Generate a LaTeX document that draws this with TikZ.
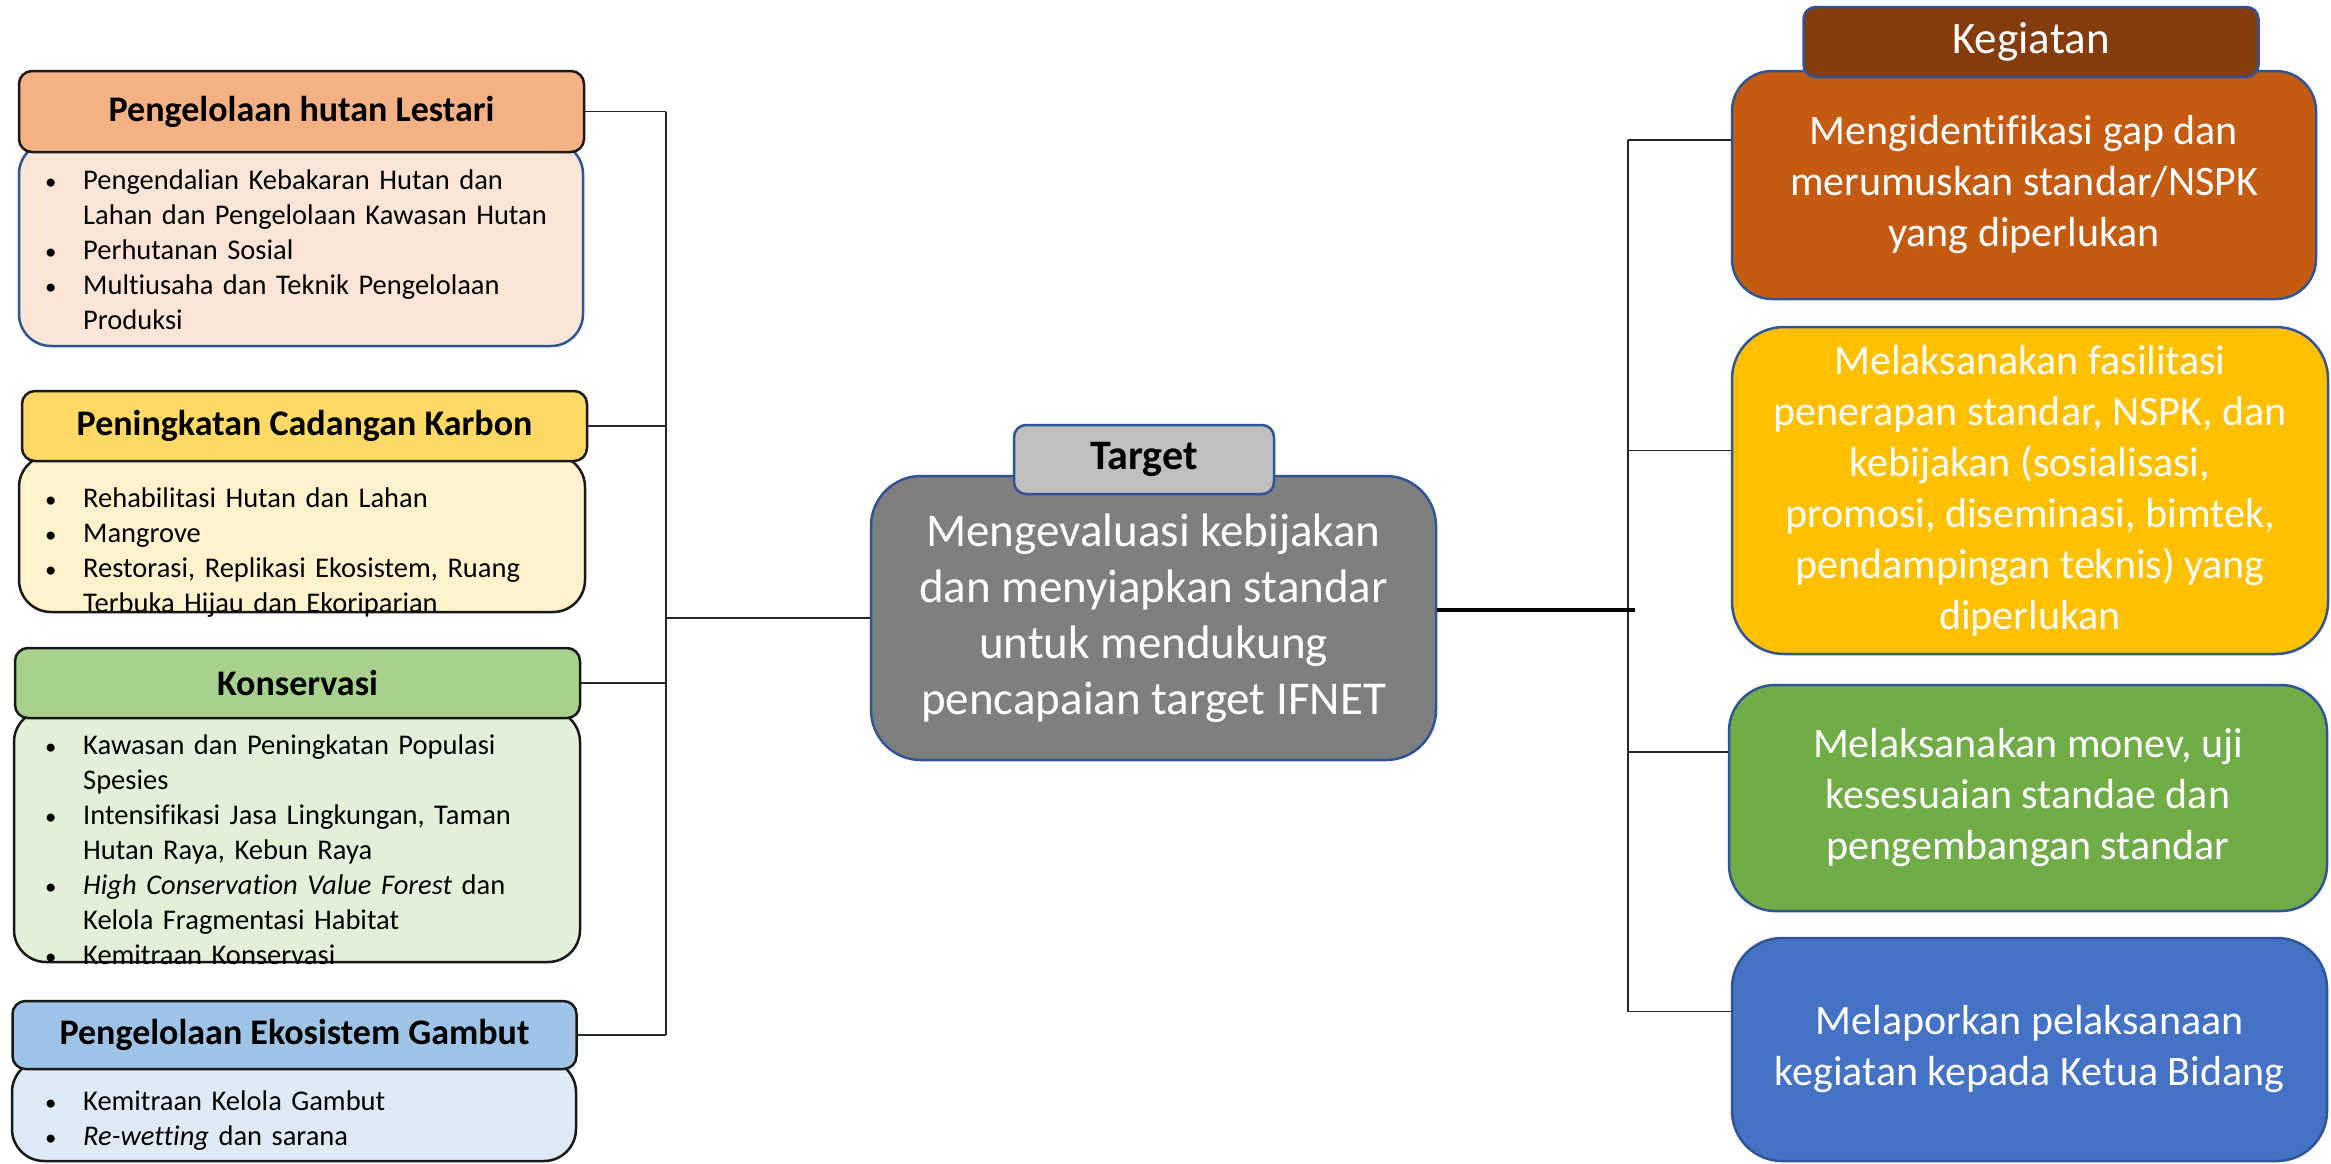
\documentclass[tikz,border=0pt]{standalone}
\usepackage{fontspec}
\setmainfont[Ligatures=NoCommon]{Carlito}
\definecolor{hdrA}{HTML}{F4B183}\definecolor{bodA}{HTML}{FBE5D6}
\definecolor{hdrB}{HTML}{FFD966}\definecolor{bodB}{HTML}{FFF2CC}
\definecolor{hdrC}{HTML}{A9D18E}\definecolor{bodC}{HTML}{E2F0D9}
\definecolor{hdrD}{HTML}{9DC3E6}\definecolor{bodD}{HTML}{DEEBF7}
\definecolor{tlab}{HTML}{BFBFBF}\definecolor{tbox}{HTML}{7F7F7F}
\definecolor{klab}{HTML}{843C0C}
\definecolor{kA}{HTML}{C55A11}\definecolor{kB}{HTML}{FFC000}
\definecolor{kC}{HTML}{70AD47}\definecolor{kD}{HTML}{4472C4}
\definecolor{bordblue}{HTML}{2F5597}
\newcommand{\bitem}[1]{\par\hangindent=38pt\hangafter=1\noindent\makebox[38pt][l]{\strut\scalebox{0.8}{\textbullet}}#1\par}
\begin{document}
\begin{tikzpicture}[x=1pt,y=-1pt,
  hdr/.style={draw=black!90, line width=2.5pt, rounded corners=13pt, inner sep=0pt,
    font=\fontsize{36}{43}\selectfont\bfseries},
  bodybox/.style={draw=black!90, line width=2.5pt, rounded corners=32pt, inner sep=0pt},
  bodytext/.style={anchor=north west, inner sep=0pt, text width=540pt, align=left,
    font=\fontsize{28.5}{35}\selectfont},
  kbox/.style={draw=bordblue, line width=2.5pt, rounded corners=48pt, inner sep=0pt,
    text=white, align=center, font=\fontsize{42}{51}\selectfont},
  lab/.style={draw=bordblue, line width=2.5pt, rounded corners=12pt, inner sep=0pt},
  conn/.style={draw=black!85, line width=1.6pt},
  thickconn/.style={draw=black, line width=3.5pt}
]
\useasboundingbox (0,0) rectangle (2331,1163);
\parskip=0pt
% ---------- left column ----------
\node[bodybox, draw=bordblue, fill=bodA, minimum width=564pt, minimum height=204pt] (bA) at (301,244) {};
\node[bodytext] (tA) at (45,154.5) {%
\bitem{Pengendalian Kebakaran Hutan dan\newline Lahan dan Pengelolaan Kawasan Hutan}%
\bitem{Perhutanan Sosial}%
\bitem{Multiusaha dan Teknik Pengelolaan\newline Produksi}};
\node[hdr, fill=hdrA, minimum width=565pt, minimum height=81pt] (hA) at (301.5,111.5) {Pengelolaan hutan Lestari};

\node[bodybox, fill=bodB, minimum width=566pt, minimum height=157pt] (bB) at (302,533.5) {};
\node[bodytext] (tB) at (45,472.5) {%
\bitem{Rehabilitasi Hutan dan Lahan}%
\bitem{Mangrove}%
\bitem{Restorasi, Replikasi Ekosistem, Ruang\newline Terbuka Hijau dan Ekoriparian}};
\node[hdr, fill=hdrB, minimum width=565pt, minimum height=70pt] (hB) at (304.5,426) {Peningkatan Cadangan Karbon};

\node[bodybox, fill=bodC, minimum width=566pt, minimum height=252pt] (bC) at (297,836) {};
\node[bodytext] (tC) at (45,719.5) {%
\bitem{Kawasan dan Peningkatan Populasi\newline Spesies}%
\bitem{Intensifikasi Jasa Lingkungan, Taman\newline Hutan Raya, Kebun Raya}%
\bitem{\textit{High Conservation Value Forest} dan\newline Kelola Fragmentasi Habitat}%
\bitem{Kemitraan Konservasi}};
\node[hdr, fill=hdrC, minimum width=565pt, minimum height=70pt] (hC) at (297.5,683) {Konservasi};

\node[bodybox, fill=bodD, minimum width=564pt, minimum height=101pt] (bD) at (294,1110.5) {};
\node[bodytext] (tD) at (45,1075.5) {%
\bitem{Kemitraan Kelola Gambut}%
\bitem{\textit{Re-wetting} dan sarana}};
\node[hdr, fill=hdrD, minimum width=564pt, minimum height=68pt] (hD) at (294.5,1035) {Pengelolaan Ekosistem Gambut};

% ---------- centre ----------
\node[kbox, fill=tbox, rounded corners=50pt, minimum width=565pt, minimum height=284pt,
  font=\fontsize{47}{56}\selectfont] (tg) at (1153.5,618)
  {Mengevaluasi kebijakan\\dan menyiapkan standar\\untuk mendukung\\pencapaian target IFNET};
\node[lab, fill=tlab, minimum width=260pt, minimum height=69pt,
  font=\fontsize{42}{50}\selectfont\bfseries] (tl) at (1144,459.5) {Target};

% ---------- right column ----------
\node[kbox, fill=kA, rounded corners=40pt, minimum width=584pt, minimum height=228pt] (kA) at (2024,185)
  {Mengidentifikasi gap dan\\merumuskan standar/NSPK\\yang diperlukan};
\node[lab, fill=klab, minimum width=455pt, minimum height=70pt, text=white,
  font=\fontsize{45}{54}\selectfont] (kl) at (2031,42) {Kegiatan};
\node[kbox, fill=kB, rounded corners=52pt, minimum width=596pt, minimum height=327pt] (kB) at (2030,490.5)
  {Melaksanakan fasilitasi\\penerapan standar, NSPK, dan\\kebijakan (sosialisasi,\\promosi, diseminasi, bimtek,\\pendampingan teknis) yang\\diperlukan};
\node[kbox, fill=kC, rounded corners=46pt, minimum width=598pt, minimum height=226pt] (kC) at (2028,798)
  {Melaksanakan monev, uji\\kesesuaian standae dan\\pengembangan standar};
\node[kbox, fill=kD, rounded corners=50pt, minimum width=595pt, minimum height=223pt] (kD) at (2029.5,1049.5)
  {Melaporkan pelaksanaan\\kegiatan kepada Ketua Bidang};

% ---------- connectors ----------
\coordinate (busL) at (666,0);
\coordinate (busR) at (1628,0);
\draw[conn] (hA.east) -- (hA.east -| busL);
\draw[conn] (hB.east) -- (hB.east -| busL);
\draw[conn] (hC.east) -- (hC.east -| busL);
\draw[conn] (hD.east) -- (hD.east -| busL);
\draw[conn] (hA.east -| busL) -- (hD.east -| busL);
\draw[conn] (tg.west) -- (tg.west -| busL);

\draw[conn] ([yshift=45pt]kA.west) -- ([yshift=45pt]kA.west -| busR);
\draw[conn] ([yshift=40pt]kB.west) -- ([yshift=40pt]kB.west -| busR);
\draw[conn] ([yshift=46pt]kC.west) -- ([yshift=46pt]kC.west -| busR);
\draw[conn] ([yshift=38pt]kD.west) -- ([yshift=38pt]kD.west -| busR);
\draw[conn] ([yshift=45pt]kA.west -| busR) -- ([yshift=38pt]kD.west -| busR);
\draw[thickconn] ([yshift=8pt]tg.east) -- ([yshift=8pt,xshift=7pt]tg.east -| busR);
\end{tikzpicture}
\end{document}
